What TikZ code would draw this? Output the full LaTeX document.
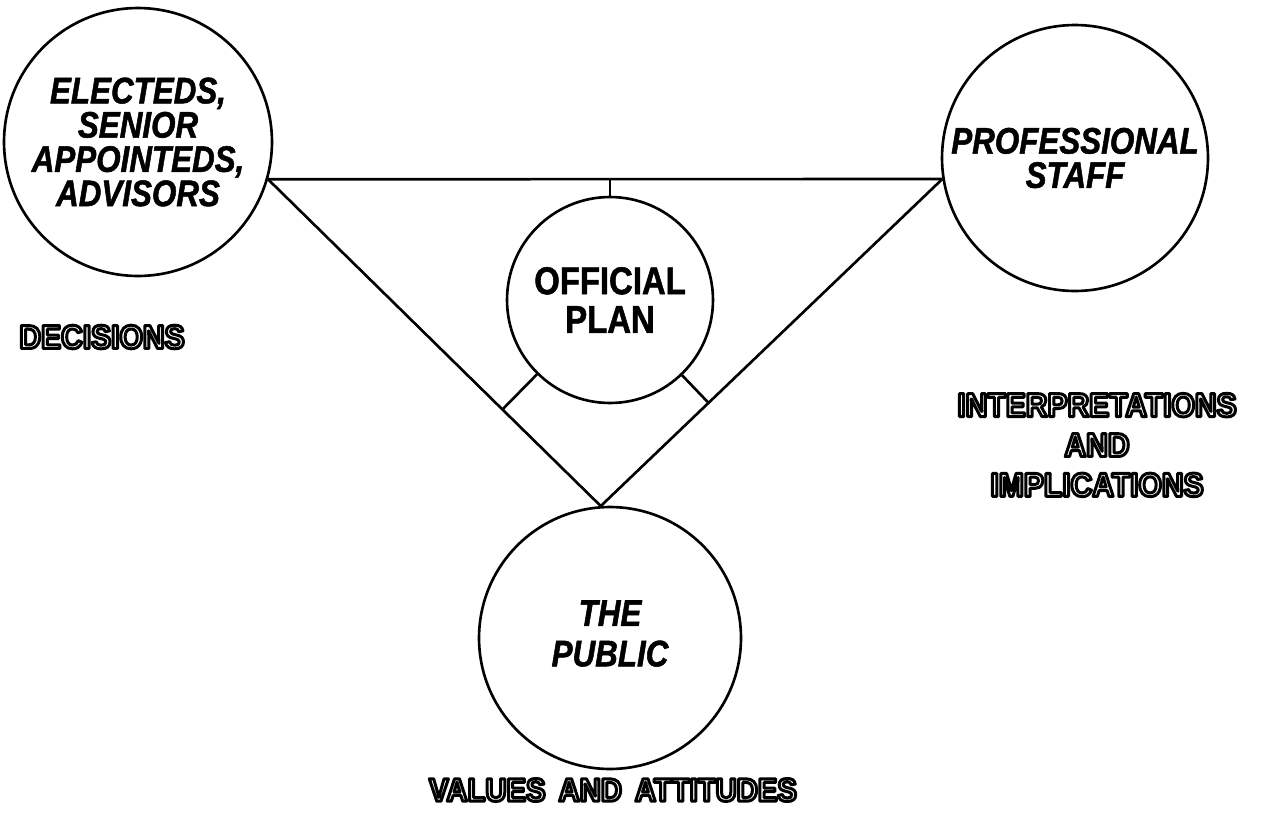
\documentclass[tikz,border=0pt]{standalone}
\usepackage{fontspec}
\usetikzlibrary{calc}

% heavy, condensed Helvetica-like faces
\newfontfamily\heavyit[FakeStretch=0.85,FakeBold=1.4]{Liberation Sans Bold Italic}
\newfontfamily\heavyup[FakeStretch=0.85,FakeBold=1.4]{Liberation Sans Bold}
\newfontfamily\hollowfont[FakeStretch=0.9]{Liberation Sans Bold}

% outlined (stroked, unfilled) lettering with round corners
\newcommand\hollow[1]{%
  \special{pdf:literal direct 1 Tr 1.7 w 1 j}#1\special{pdf:literal direct 0 Tr}}

\begin{document}
\begin{tikzpicture}[x=0.02cm, y=-0.02cm,
  line width=1.5pt,
  actor/.style={circle, draw, line width=1.5pt, inner sep=0pt, align=center,
    font=\heavyit\fontsize{21}{19.5}\selectfont},
  planbox/.style={circle, draw, line width=1.5pt, inner sep=0pt, align=center,
    font=\heavyup\fontsize{22}{22}\selectfont},
  hollowlabel/.style={align=center, inner sep=0pt,
    font=\hollowfont\fontsize{19}{22.7}\selectfont}]
\useasboundingbox (0,0) rectangle (1261,812);

% the four circles
\node[actor, minimum size=5.36cm] (elected) at (138,142)
  {ELECTEDS,\\SENIOR\\APPOINTEDS,\\ADVISORS};
\node[actor, minimum size=5.32cm] (staff) at (1075,158)
  {PROFESSIONAL\\STAFF};
\node[planbox, minimum size=4.12cm] (plan) at (610,300)
  {OFFICIAL\\PLAN};
\node[actor, minimum size=5.24cm, font=\heavyit\fontsize{21}{23}\selectfont] (public) at (610,638)
  {\raisebox{0.2cm}{\begin{tabular}{@{}c@{}}THE\\PUBLIC\end{tabular}}};

% triangle of links
\coordinate (lt) at (elected.-16);
\coordinate (rt) at (staff.189);
\coordinate (bt) at (public.94);
\draw (lt) -- (rt);
\draw (lt) -- (bt);
\draw (rt) -- (bt);

% ties from the plan to the three sides
\coordinate (footT) at (plan.north |- lt);
\coordinate (footL) at ($(lt)!(plan.center)!(bt)$);
\coordinate (footR) at ($(rt)!(plan.center)!(bt)$);
\draw (plan.north) -- (footT);
\draw (plan) -- (footL);
\draw (plan) -- (footR);

% outlined captions
\node[hollowlabel] (decisions) at (102,337) {\hollow{DECISIONS}};
\node[hollowlabel] (interp) at (1097,445)
  {\hollow{INTERPRETATIONS}\\\hollow{AND}\\\hollow{IMPLICATIONS}};
\node[hollowlabel, font=\hollowfont\fontsize{18.5}{20}\selectfont] (values) at (613,790)
  {\hollow{VALUES\hspace{0.4em}AND\hspace{0.4em}ATTITUDES}};
\end{tikzpicture}
\end{document}
